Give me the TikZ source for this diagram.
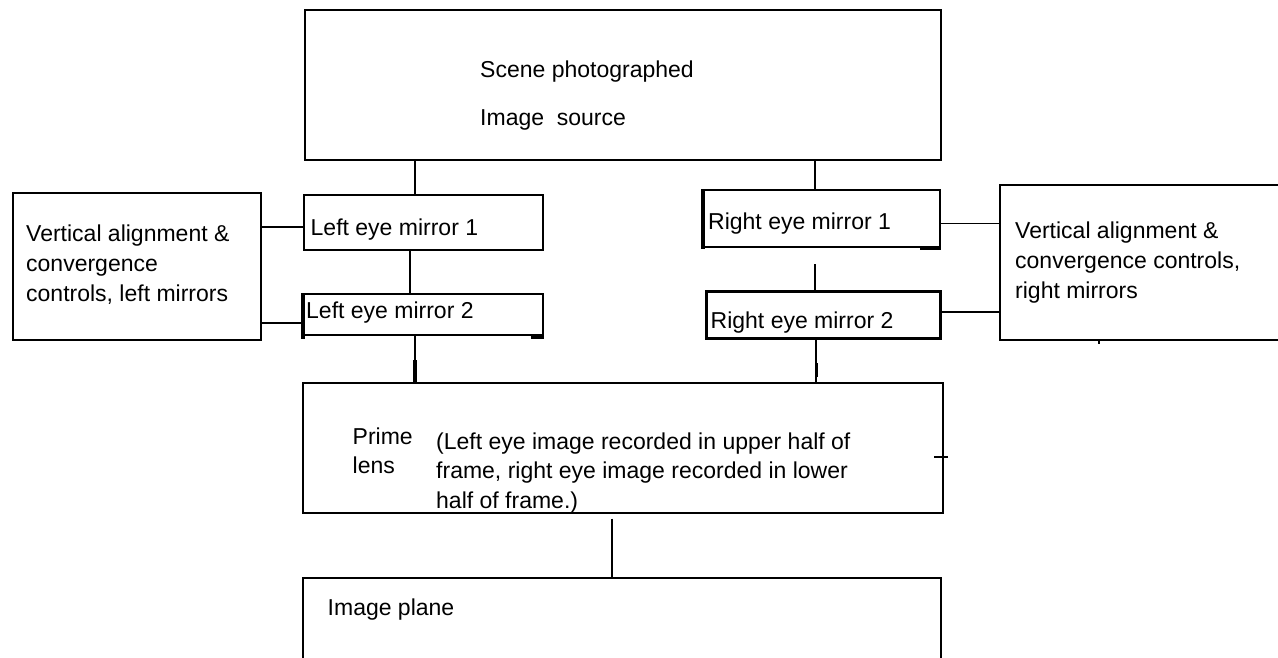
\documentclass[tikz,border=0pt]{standalone}
\usepackage{fontspec}
\setmainfont{Liberation Sans}
\begin{document}
\begin{tikzpicture}[x=1pt,y=-1pt,
  box/.style={draw=black, line width=1.6pt, rectangle, inner sep=0pt, anchor=north west},
  lbl/.style={anchor=base west, inner sep=0pt, font=\fontsize{23}{28}\selectfont, text=black},
  conn/.style={draw=black, line width=1.6pt},
  blob/.style={draw=black, line width=3.5pt}]
\clip (0,0) rectangle (1278,658);
\fill[white] (0,0) rectangle (1278,658);

% boxes
\node[box, minimum width=636pt, minimum height=149.5pt] (top) at (304,9.5) {};
\node[box, minimum width=248pt, minimum height=147pt] (lctl) at (12,192) {};
\node[box, minimum width=239pt, minimum height=55pt] (lem1) at (303,194) {};
\node[box, minimum width=239pt, minimum height=41pt] (lem2) at (303,293) {};
\node[box, minimum width=236pt, minimum height=56.5pt] (rem1) at (703,189.5) {};
\node[box, line width=3pt, minimum width=234pt, minimum height=47pt] (rem2) at (705,290) {};
\node[box, minimum width=300pt, minimum height=155pt] (rctl) at (999,184) {};
\node[box, minimum width=640pt, minimum height=130pt] (prime) at (302,382) {};
\node[box, minimum width=638pt, minimum height=120pt] (plane) at (302,577) {};

% vertical connectors
\coordinate (xl) at (415,0);
\coordinate (xr) at (815,0);
\coordinate (xl2) at (410,0);
\coordinate (xr2) at (816,0);
\draw[conn] (top.south -| xl) -- (lem1.north -| xl);
\draw[conn] (top.south -| xr) -- (rem1.north -| xr);
\draw[conn] (lem1.south -| xl2) -- (lem2.north -| xl2);
\coordinate (gap) at (815,264);
\draw[conn] (gap) -- (rem2.north -| gap);
\draw[conn] (lem2.south -| xl) -- (prime.north -| xl);
\draw[conn] (rem2.south -| xr2) -- (prime.north -| xr2);
\coordinate (pp) at (612,518.7);
\draw[conn] (pp) -- (plane.north -| pp);

% horizontal connectors
\coordinate (ya) at (0,226.7);
\coordinate (yb) at (0,322.7);
\coordinate (yc) at (0,223.3);
\coordinate (yd) at (0,311.7);
\draw[conn] (lctl.east |- ya) -- (lem1.west |- ya);
\draw[conn] (lctl.east |- yb) -- (lem2.west |- yb);
\draw[conn] (rem1.east |- yc) -- (rctl.west |- yc);
\draw[conn] (rem2.east |- yd) -- (rctl.west |- yd);

% small ticks
\coordinate (tk) at (1099,344);
\draw[conn] (rctl.south -| tk) -- (tk);
\coordinate (tka) at (934,457);
\coordinate (tkb) at (948,457);
\draw[conn] (tka) -- (tkb);

% thick rendering marks
\draw[blob] (lem2.north west) -- ([yshift=-3pt]lem2.south west);
\draw[line width=3pt] ([xshift=-13pt,yshift=-1.5pt]lem2.south east) -- ([yshift=-1.5pt]lem2.south east);
\draw[line width=3.2pt] (rem1.north west) -- ([yshift=-1pt]rem1.south west);
\draw[line width=3pt] ([xshift=-21pt,yshift=-1pt]rem1.south east) -- ([yshift=-1pt]rem1.south east);
\coordinate (ka) at (415,360);
\draw[blob] (ka) -- (prime.north -| ka);
\coordinate (kb) at (816,363);
\coordinate (kc) at (816,377);
\draw[line width=3pt] (kb) -- (kc);

% texts
\node[lbl] (s1) at (480,78) {Scene photographed};
\node[lbl] (s2) at (480,125.5) {Image\ \ source};
\node[lbl] (l1) at (26,241) {Vertical alignment \&};
\node[lbl] (l2) at (26,271) {convergence};
\node[lbl] (l3) at (26,301) {controls, left mirrors};
\node[lbl] (m1) at (310.5,235) {Left eye mirror 1};
\node[lbl] (m2) at (306,318) {Left eye mirror 2};
\node[lbl] (m3) at (708,229.5) {Right eye mirror 1};
\node[lbl] (m4) at (710.5,328.5) {Right eye mirror 2};
\node[lbl] (r1) at (1015,238.5) {Vertical alignment \&};
\node[lbl] (r2) at (1015,268.5) {convergence controls,};
\node[lbl] (r3) at (1015,298.5) {right mirrors};
\node[lbl] (p1) at (352.5,444) {Prime};
\node[lbl] (p2) at (352.5,473) {lens};
\node[lbl] (q1) at (436,449) {(Left eye image recorded in upper half of};
\node[lbl] (q2) at (436,478) {frame, right eye image recorded in lower};
\node[lbl] (q3) at (436,508) {half of frame.)};
\node[lbl] (ip) at (327.5,615.5) {Image plane};
\end{tikzpicture}
\end{document}
